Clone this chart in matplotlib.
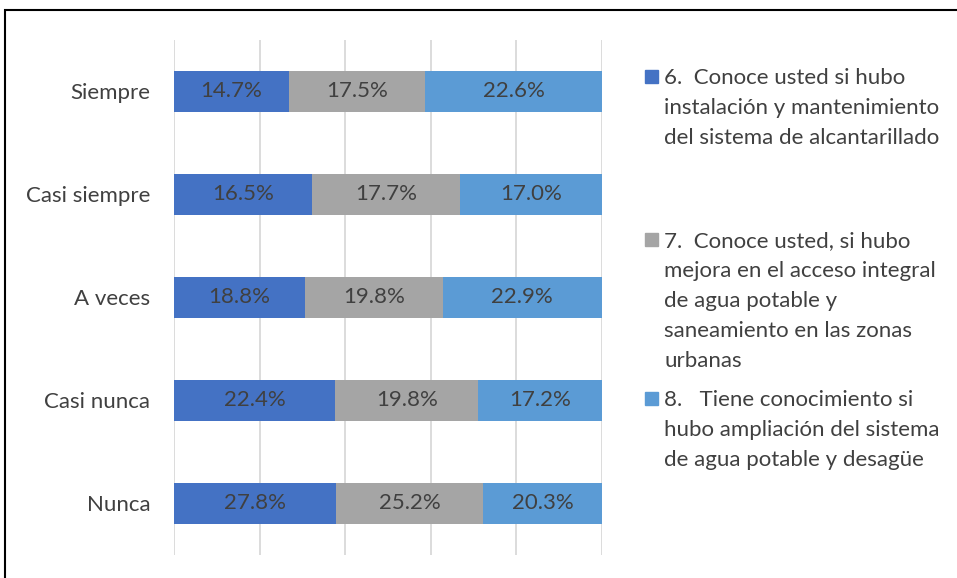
import matplotlib
matplotlib.use("Agg")
import matplotlib.pyplot as plt
from matplotlib.patches import Rectangle
import numpy as np

categories = ["Siempre", "Casi siempre", "A veces", "Casi nunca", "Nunca"]
s6 = [14.7, 16.5, 18.8, 22.4, 27.8]
s7 = [17.5, 17.7, 19.8, 19.8, 25.2]
s8 = [22.6, 17.0, 22.9, 17.2, 20.3]
series = [s6, s7, s8]
legend_labels = [
    "6.  Conoce usted si hubo\ninstalación y mantenimiento\ndel sistema de alcantarillado",
    "7.  Conoce usted, si hubo\nmejora en el acceso integral\nde agua potable y\nsaneamiento en las zonas\nurbanas",
    "8.   Tiene conocimiento si\nhubo ampliación del sistema\nde agua potable y desagüe",
]
colors = ["#4472C4", "#A5A5A5", "#5B9BD5"]

plt.rcParams['font.family'] = ['Lato', 'DejaVu Sans']
W, H = 957, 578
FS = 16
fig = plt.figure(figsize=(W / 100, H / 100), dpi=100)
ax = fig.add_axes([174 / W, 1 - 555 / H, (602 - 174) / W, (555 - 40) / H])

data = np.array(series, dtype=float)
totals = data.sum(axis=0)
frac = data / totals * 100
y = np.arange(len(categories))
left = np.zeros(len(categories))
for i in range(len(series)):
    bars = ax.barh(y, frac[i], left=left, height=0.4, color=colors[i], zorder=3)
    for j, b in enumerate(bars):
        ax.text(left[j] + frac[i][j] / 2, y[j], f"{data[i][j]:.1f}%",
                ha="center", va="center", color="#404040", fontsize=FS, zorder=4)
    left += frac[i]

ax.set_xlim(0, 100)
ax.set_ylim(len(categories) - 0.5, -0.5)
ax.set_xticks(np.arange(0, 101, 20))
ax.set_xticklabels([])
ax.tick_params(axis="x", length=0)
ax.tick_params(axis="y", length=0, pad=17, labelsize=FS, labelcolor="#404040")
ax.set_yticks(y)
ax.set_yticklabels(categories)
ax.grid(axis="x", color="#D9D9D9", linewidth=1.3, zorder=0)
for sp in ax.spines.values():
    sp.set_visible(False)

# legend
marker_tops = [70, 233, 392]
for lab, c, ty in zip(legend_labels, colors, marker_tops):
    fig.patches.append(Rectangle((645 / W, 1 - (ty + 13) / H), 13 / W, 13 / H,
                                 transform=fig.transFigure, color=c, zorder=5))
    fig.text(664 / W, 1 - (ty - 2) / H, lab, ha="left", va="top", fontsize=FS,
             color="#404040", linespacing=1.62)

# outer frame
fig.patches.append(Rectangle((5 / W, -0.05), 1.1, 1 - 10 / H + 0.05,
                             transform=fig.transFigure, fill=False,
                             edgecolor="black", linewidth=1.5, zorder=10))

fig.savefig("out.png", dpi=100)
